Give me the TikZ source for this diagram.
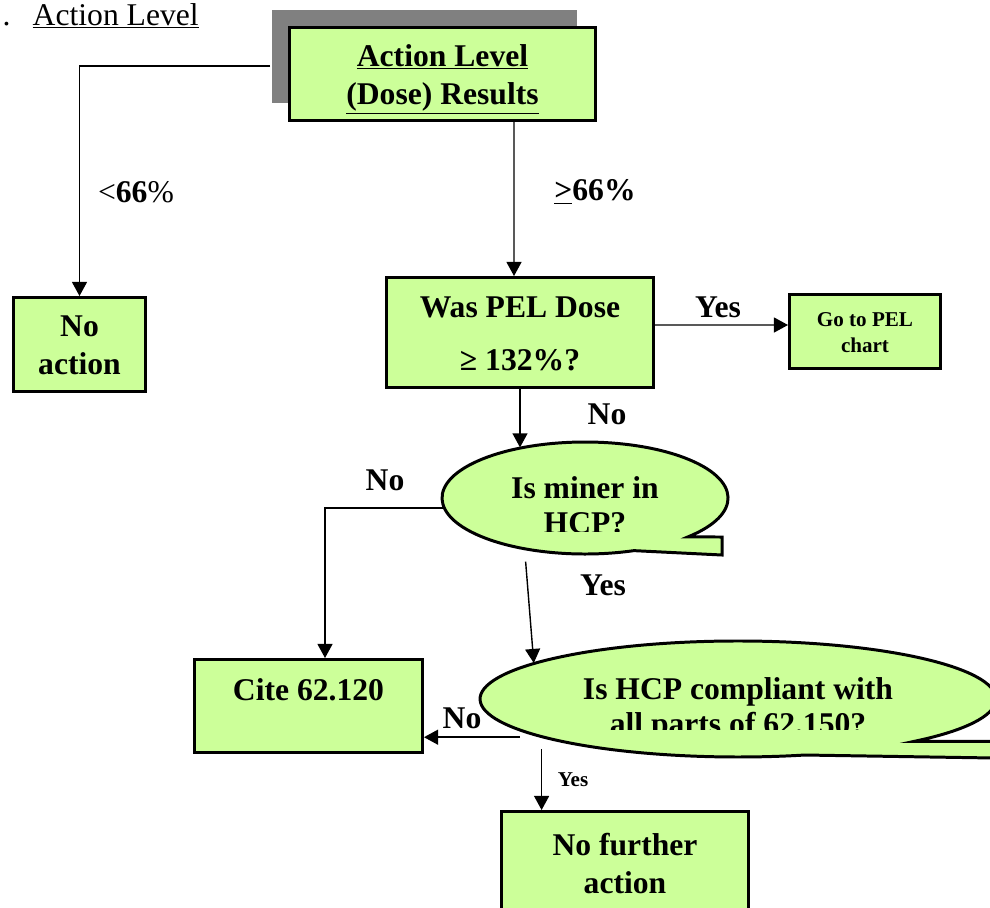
\documentclass[tikz,border=0pt]{standalone}
\usepackage{fontspec}
\setmainfont{Liberation Serif}
\usetikzlibrary{shapes.geometric,shadows,arrows.meta}
\definecolor{boxgreen}{RGB}{204,255,153}
\newcommand{\bigtext}{\fontsize{18}{21.6}\selectfont}

\tikzset{
	box/.style={draw, line width=1.7pt, fill=boxgreen, align=center, inner sep=0pt, font=\bfseries\bigtext},
	twoline/.style={text height=1.5cm, text depth=0.3cm},
	bubble/.style={ellipse, align=center, inner sep=0pt, text height=1.45cm, text depth=0.05cm, font=\bfseries\fontsize{18}{19.8}\selectfont},
	bubbleline/.style={line width=1.7pt, fill=boxgreen},
	lbl/.style={inner sep=0pt, font=\bfseries\bigtext},
	>={Triangle[length=8pt, width=8.5pt]},
}

\begin{document}
\begin{tikzpicture}[x=0.02cm, y=-0.02cm, line width=0.8pt]
				\useasboundingbox (0,0) rectangle (990,907);
				\clip (0,0) rectangle (990,907);
				\node[anchor=base west, inner sep=0pt, font=\bigtext] (heading) at (2,25) {.\hspace{12.6pt}\underline{Action Level}};
				% boxes
				\node[box, twoline, minimum width=6.12cm, minimum height=1.86cm, drop shadow={shadow xshift=-0.36cm, shadow yshift=0.36cm, fill=black!50, opacity=1}] (title) at (442.5,74) {\underline{Action Level}\\\underline{(Dose) Results}};
				\node[box, twoline, minimum width=2.64cm, minimum height=1.88cm] (noact) at (79.5,344.5) {No\\action};
				\node[box, text height=1.7cm, text depth=0.18cm, minimum width=5.34cm, minimum height=2.2cm] (pel) at (520,332.5) {Was PEL Dose\\[8.4pt]≥ 132\%?};
				\node[box, text height=0.95cm, text depth=0.13cm, font=\bfseries\fontsize{12}{14.4}\selectfont, minimum width=3.02cm, minimum height=1.48cm] (gopel) at (865,331.5) {Go to PEL\\chart};
				\node[box, text height=0.42cm, text depth=0.64cm, minimum width=4.56cm, minimum height=1.86cm] (cite) at (308.5,706) {Cite 62.120};
				\node[box, twoline, minimum width=4.94cm, minimum height=2.06cm] (nfa) at (625,863) {No further\\action};
				% callouts
				\filldraw[bubbleline] (687.9,536.9) arc[start angle=44, end angle=-290, x radius=143, y radius=56] -- (722,555) -- (722,537) -- cycle;
				\filldraw[bubbleline] (914,741.4) arc[start angle=47, end angle=-285, x radius=258, y radius=58] -- (994,758) -- (994,741.4) -- cycle;
				\begin{scope}
					\clip (400,400) rectangle (760,531);
					\node[bubble, minimum width=5.72cm, minimum height=2.24cm] (miner) at (585,498) {Is miner in\\HCP?};
				\end{scope}
				\begin{scope}
					\clip (400,600) rectangle (990,729);
					\node[bubble, minimum width=10.32cm, minimum height=2.32cm] (comply) at (738,699) {Is HCP compliant with\\all parts of 62.150?};
				\end{scope}
				% connectors
				\draw[->] ([shift={(-18,-8)}]title.west) -| (noact.north);
				\draw[->] ([xshift=1.43cm]title.south) -- ([xshift=-0.12cm]pel.north);
				\draw[->] ([yshift=0.15cm]pel.east) -- ([yshift=0.13cm]gopel.west);
				\draw[->] (pel.south) -- (pel.south |- miner.142);
				\draw[->] (miner.184) -| ([xshift=0.33cm]cite.north);
				\draw[->] ([yshift=-0.24cm]miner.221) -- (comply.170);
				\draw[->] ([xshift=-0.44cm]comply.191) -- (comply.191 -| cite.east);
				\draw[->] ([yshift=-0.24cm]comply.191) -- (comply.191 |- nfa.north);
				% labels
				\node[inner sep=0pt, font=\bigtext] (lblless) at (136,192) {<\textbf{66}\%};
				\node[lbl] (lblmore) at (595,192) {\underline{>}66\%};
				\node[lbl] (lblyes1) at (718,307) {Yes};
				\node[lbl] (lblno1) at (607,414) {No};
				\node[lbl] (lblno2) at (385,480) {No};
				\node[lbl] (lblyes2) at (603,585) {Yes};
				\node[lbl] (lblno3) at (462,718) {No};
				\node[lbl, font=\bfseries\fontsize{12}{14.4}\selectfont] (lblyes3) at (573,780) {Yes};
			\end{tikzpicture}
\end{document}
